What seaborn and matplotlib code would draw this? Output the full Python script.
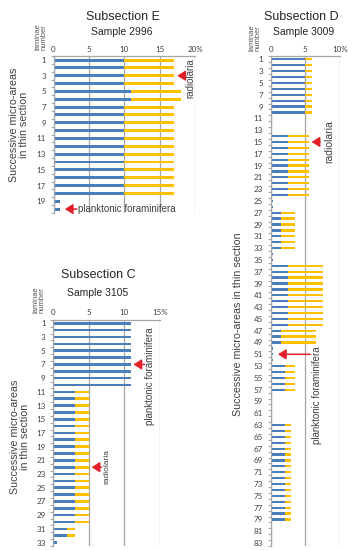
import numpy as np
import pandas as pd
import matplotlib
matplotlib.use("Agg")
import matplotlib.pyplot as plt
import seaborn as sns

# ---------------- data ----------------
# Subsection E, sample 2996 (values in %)
lam_E = [1, 2, 3, 4, 5, 6, 7, 8, 9, 10, 11, 12, 13, 14, 15, 16, 17, 18, 19, 20]
foram_E = [10, 10, 10, 10, 11, 11, 10, 10, 10, 10, 10, 10, 10, 10, 10, 10, 10, 10, 0.9, 0.9]
radio_E = [7, 7, 7, 7, 7, 7, 7, 7, 7, 7, 7, 7, 7, 7, 7, 7, 7, 7, 0, 0]

# Subsection D, sample 3009
lam_D = [1, 2, 3, 4, 5, 6, 7, 8, 9, 10,
         14, 15, 16, 17, 18, 19, 20, 21, 22, 23, 24,
         25, 26,
         27, 28, 29, 30, 31, 32, 33,
         34, 35,
         36, 37, 38, 39, 40, 41, 42, 43, 44, 45, 46,
         47, 48, 49,
         50, 51, 52,
         53, 54, 55, 56, 57,
         63, 64, 65, 66, 67, 68, 69, 70, 71, 72, 73, 74, 75, 76, 77, 78, 79]
foram_D = [5, 5, 5, 5, 5, 5, 5, 5, 5, 5,
           2.5, 2.5, 2.5, 2.5, 2.5, 2.5, 2.5, 2.5, 2.5, 2.5, 2.5,
           0.4, 0.4,
           1.5, 1.5, 1.5, 1.5, 1.5, 1.5, 1.5,
           0.4, 0.4,
           2.5, 2.5, 2.5, 2.5, 2.5, 2.5, 2.5, 2.5, 2.5, 2.5, 2.5,
           1.5, 1.5, 1.5,
           0.4, 0.4, 0.4,
           2, 2, 2, 2, 2,
           2, 2, 2, 2, 2, 2, 2, 2, 2, 2, 2, 2, 2, 2, 2, 2, 2]
radio_D = [1, 1, 1, 1, 1, 1, 1, 1, 1, 1,
           3, 3, 3, 3, 3, 3, 3, 3, 3, 3, 3,
           0, 0,
           2, 2, 2, 2, 2, 2, 2,
           0, 0,
           5, 5, 5, 5, 5, 5, 5, 5, 5, 5, 5,
           5, 5, 5,
           0, 0, 0,
           1.5, 1.5, 1.5, 1.5, 1.5,
           1, 1, 1, 1, 1, 1, 1, 1, 1, 1, 1, 1, 1, 1, 1, 1, 1]

# Subsection C, sample 3105
lam_C = list(range(1, 34))
foram_C = [11, 11, 11, 11, 11, 11, 11, 11, 11, 11,
           3, 3, 3, 3, 3, 3, 3, 3, 3, 3, 3, 3, 3, 3, 3, 3, 3, 3, 3, 3,
           2, 2, 0.5]
radio_C = [0, 0, 0, 0, 0, 0, 0, 0, 0, 0,
           2, 2, 2, 2, 2, 2, 2, 2, 2, 2, 2, 2, 2, 2, 2, 2, 2, 2, 2, 2,
           1, 1, 0]

xticks_E = [0, 5, 10, 15, 20]
xlabels_E = ["0", "5", "10", "15", "20%"]
xticks_D = [0, 5, 10]
xlabels_D = ["0", "5", "10%"]
xticks_C = [0, 5, 10, 15]
xlabels_C = ["0", "5", "10", "15%"]

# ---------------- style ----------------
sns.set_theme(style="white")
plt.rcParams['font.family'] = ['Liberation Sans', 'DejaVu Sans']

BLUE = '#4a7ebb'
YELLOW = '#ffc000'
GRID = '#a6a6a6'
TXT = '#404040'
DARK = '#262626'
RED = '#e3202a'
W, H = 354, 550

fig = plt.figure(figsize=(W / 100, H / 100), dpi=100)


def px_axes(x0, y0, x1, y1):
    return fig.add_axes([x0 / W, 1 - y1 / H, (x1 - x0) / W, (y1 - y0) / H])


def panel(ax, lam, foram, radio, nrows, xmax, xticks, xlabels):
    total = [f + r for f, r in zip(foram, radio)]
    df = pd.DataFrame({'lam': lam, 'foram': foram, 'total': total})
    ax.set_axisbelow(True)
    ax.grid(axis='x', color=GRID, lw=0.9)
    ax.grid(axis='y', visible=False)
    sns.barplot(data=df, x='total', y='lam', orient='h', native_scale=True,
                width=0.38, color=YELLOW, saturation=1, errorbar=None,
                linewidth=0, ax=ax)
    sns.barplot(data=df, x='foram', y='lam', orient='h', native_scale=True,
                width=0.38, color=BLUE, saturation=1, errorbar=None,
                linewidth=0, ax=ax)
    ax.set_xlim(0, xmax)
    ax.set_ylim(nrows + 0.5, 0.5)
    ax.set_xlabel('')
    ax.set_ylabel('')
    ax.xaxis.tick_top()
    ax.set_xticks(xticks)
    ax.set_xticklabels(xlabels, fontsize=5.8, family='Lato', color=TXT)
    ax.tick_params(axis='x', length=0, pad=2.5)
    yt = list(range(1, nrows + 1, 2))
    ax.set_yticks(yt)
    ax.set_yticklabels([str(v) for v in yt], fontsize=5.8, family='Lato', color=TXT)
    ax.set_yticks(np.arange(0.5, nrows + 1, 1), minor=True)
    ax.tick_params(axis='y', which='major', length=0, pad=5.5, left=True)
    ax.tick_params(axis='y', which='minor', length=2.5, width=0.7, color=GRID, left=True)
    for s in ['right', 'bottom']:
        ax.spines[s].set_visible(False)
    for s in ['left', 'top']:
        ax.spines[s].set_visible(True)
        ax.spines[s].set_color(GRID)
        ax.spines[s].set_linewidth(0.9)


def arrow(ax, head, tail, y):
    ax.annotate('', xy=(head, y), xytext=(tail, y), annotation_clip=False,
                arrowprops=dict(arrowstyle='-|>,head_length=0.6,head_width=0.38',
                                color=RED, lw=1.1, mutation_scale=8,
                                shrinkA=0, shrinkB=0))


# Panel E
axE = px_axes(53.5, 56.1, 195, 213)
panel(axE, lam_E, foram_E, radio_E, 20, 20, xticks_E, xlabels_E)
arrow(axE, 17.5, 18.7, 3)
arrow(axE, 1.6, 3.3, 20)
axE.text(19.3, 3.3, 'radiolaria', rotation=90, fontsize=7, color=TXT, ha='center', va='center')
axE.text(3.5, 20, 'planktonic foraminifera', fontsize=7, color=TXT, ha='left', va='center')

# Panel D
axD = px_axes(270.7, 56.4, 340, 546)
panel(axD, lam_D, foram_D, radio_D, 83, 10, xticks_D, xlabels_D)
arrow(axD, 5.9, 7.1, 15)
arrow(axD, 1.05, 5.7, 51)
axD.text(8.4, 14.9, 'radiolaria', rotation=90, fontsize=7.5, color=TXT, ha='center', va='center')
axD.text(6.7, 57.9, 'planktonic foraminifera', rotation=90, fontsize=7, color=TXT, ha='center', va='center')

# Panel C
axC = px_axes(53.3, 319.9, 159.7, 546)
panel(axC, lam_C, foram_C, radio_C, 33, 15, xticks_C, xlabels_C)
arrow(axC, 11.3, 12.9, 7)
arrow(axC, 5.4, 6.8, 22)
axC.text(13.6, 8.7, 'planktonic foraminifera', rotation=90, fontsize=7, color=TXT, ha='center', va='center')
axC.text(7.5, 21.9, 'radiolaria', rotation=90, fontsize=6, color=TXT, ha='center', va='center')


def ftext(x, y, s, **kw):
    fig.text(x / W, 1 - y / H, s, ha='center', va='center', **kw)


ftext(123, 17, 'Subsection E', fontsize=9, color=DARK)
ftext(122, 32, 'Sample 2996', fontsize=7.5, color=DARK)
ftext(301, 17, 'Subsection D', fontsize=9, color=DARK)
ftext(304, 32, 'Sample 3009', fontsize=7.5, color=DARK)
ftext(98, 275, 'Subsection C', fontsize=9, color=DARK)
ftext(98, 293, 'Sample 3105', fontsize=7.5, color=DARK)

for (x, y) in [(41, 37), (255, 38), (39, 300)]:
    ftext(x, y, 'laminae\nnumber', rotation=90, fontsize=5.5, color='#595959', linespacing=1.0)

ftext(19, 125, 'Successive micro-areas\nin thin section', rotation=90, fontsize=7.7, color=TXT, linespacing=1.1)
ftext(20, 437, 'Successive micro-areas\nin thin section', rotation=90, fontsize=7.7, color=TXT, linespacing=1.1)
ftext(238, 324, 'Successive micro-areas in thin section', rotation=90, fontsize=7.7, color=TXT)

fig.savefig('out.png', dpi=100)
